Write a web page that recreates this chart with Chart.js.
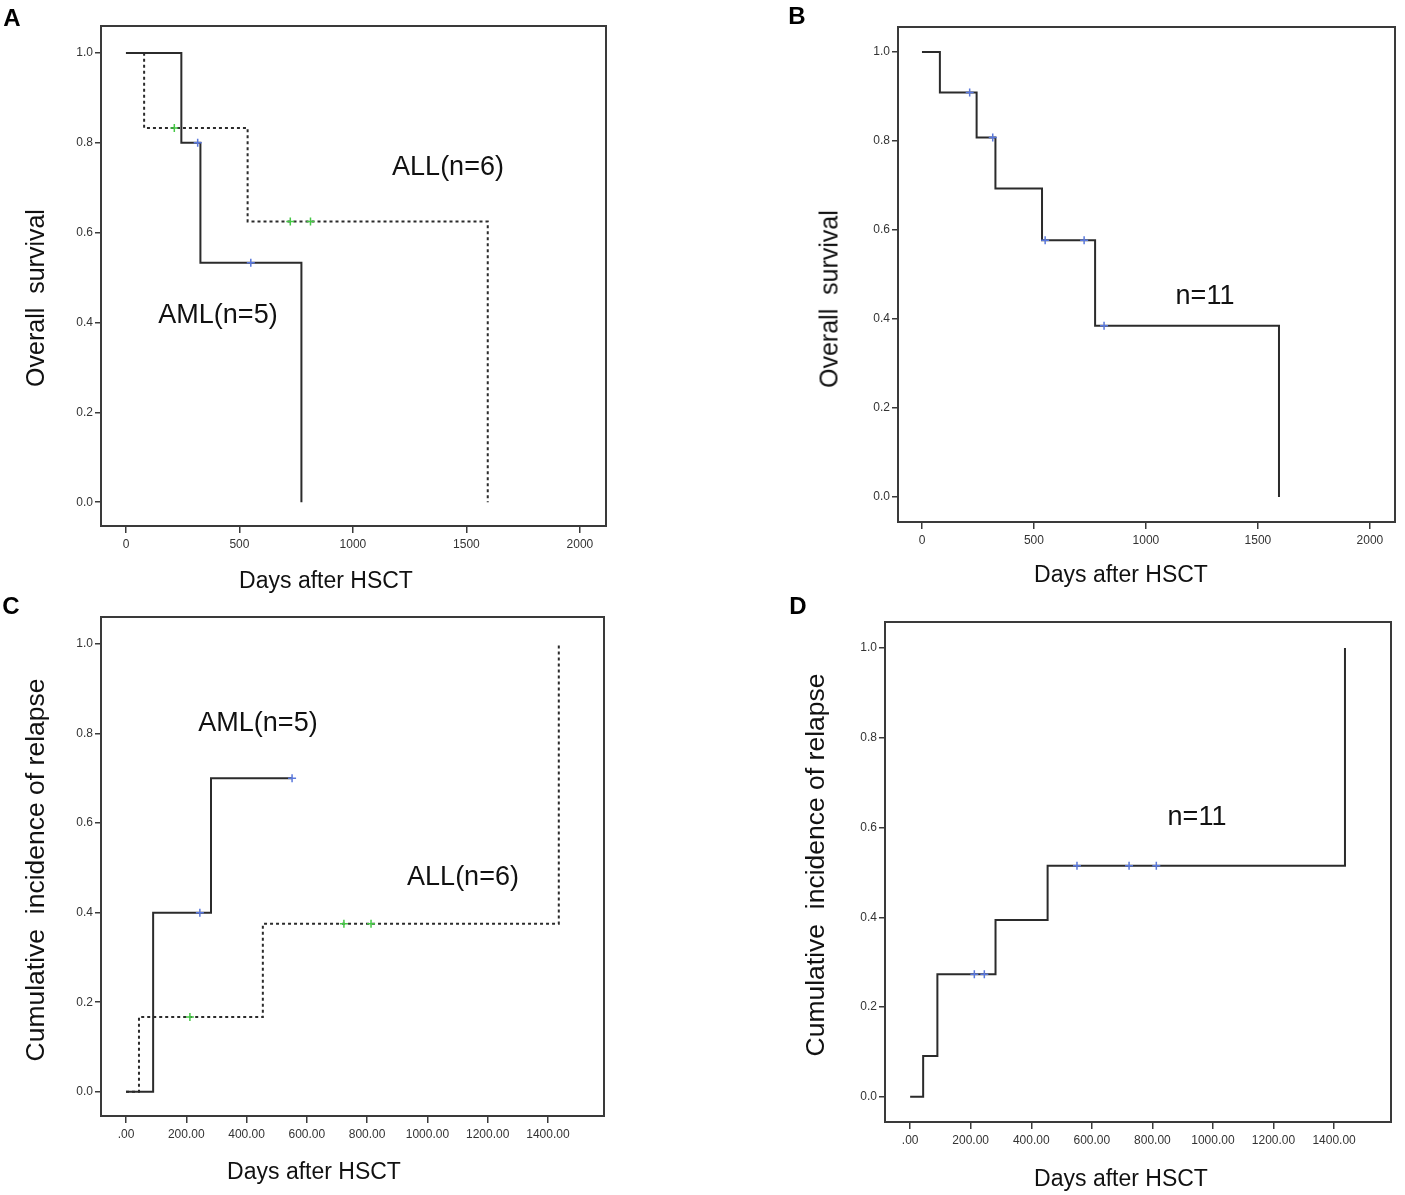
<!DOCTYPE html>
<html>
<head>
<meta charset="utf-8">
<script src="https://cdn.jsdelivr.net/npm/chart.js@4.4.1/dist/chart.umd.min.js"></script>
<style>
  body { margin: 0; background: #fff; width: 1405px; height: 1195px; position: relative; overflow: hidden;
         font-family: "Liberation Sans", Arial, sans-serif; }
  canvas { position: absolute; }
  .txt { position: absolute; transform: translate(-50%, -50%); white-space: pre; color: #111; line-height: 1; }
  .ytitle { transform: translate(-50%, -50%) rotate(-90deg); font-size: 25px; }
  .ytitle.long { font-size: 26.5px; }
  .xtitle { font-size: 23px; }
  .note { font-size: 27px; }
  .letter { font-weight: bold; font-size: 24px; color: #000; }
</style>
</head>
<body>
<canvas id="chartA" width="700" height="600" style="left:0;top:0"></canvas>
<canvas id="chartB" width="615" height="600" style="left:790px;top:0"></canvas>
<canvas id="chartC" width="700" height="600" style="left:0;top:595px"></canvas>
<canvas id="chartD" width="615" height="600" style="left:790px;top:595px"></canvas>

<div class="txt letter" style="left:12px;top:18px">A</div>
<div class="txt letter" style="left:797px;top:16px">B</div>
<div class="txt letter" style="left:11px;top:606px">C</div>
<div class="txt letter" style="left:798px;top:606px">D</div>

<div class="txt ytitle" style="left:35px;top:298px">Overall  survival</div>
<div class="txt xtitle" style="left:326px;top:580px">Days after HSCT</div>
<div class="txt note" style="left:448px;top:166px">ALL(n=6)</div>
<div class="txt note" style="left:218px;top:314px">AML(n=5)</div>

<div class="txt ytitle" style="left:829px;top:299px">Overall  survival</div>
<div class="txt xtitle" style="left:1121px;top:574px">Days after HSCT</div>
<div class="txt note" style="left:1205px;top:295px">n=11</div>

<div class="txt ytitle long" style="left:35px;top:870px">Cumulative  incidence of relapse</div>
<div class="txt xtitle" style="left:314px;top:1171px">Days after HSCT</div>
<div class="txt note" style="left:258px;top:722px">AML(n=5)</div>
<div class="txt note" style="left:463px;top:876px">ALL(n=6)</div>

<div class="txt ytitle long" style="left:815px;top:865px">Cumulative  incidence of relapse</div>
<div class="txt xtitle" style="left:1121px;top:1178px">Days after HSCT</div>
<div class="txt note" style="left:1197px;top:816px">n=11</div>

<script>
// A: overall survival by diagnosis (days, survival after each death)
const amlOsTimes = [0, 244, 328, 773];
const amlOsSurv = [1, 0.8, 0.533, 0];
const amlOsCensorTimes = [316, 550];
const amlOsCensorSurv = [0.8, 0.533];
const allOsTimes = [0, 80, 536, 1594];
const allOsSurv = [1, 0.833, 0.625, 0];
const allOsCensorTimes = [213, 724, 813];
const allOsCensorSurv = [0.833, 0.625, 0.625];

// B: overall survival, all patients
const osTimes = [0, 80, 244, 328, 536, 773, 1594];
const osSurv = [1, 0.909, 0.808, 0.693, 0.577, 0.385, 0];
const osCensorTimes = [213, 316, 550, 724, 813];
const osCensorSurv = [0.909, 0.808, 0.577, 0.577, 0.385];

// C: cumulative incidence of relapse by diagnosis
const amlRelTimes = [0, 90, 282, 551];
const amlRelCum = [0, 0.4, 0.7, 0.7];
const amlRelCensorTimes = [245, 551];
const amlRelCensorCum = [0.4, 0.7];
const allRelTimes = [0, 43, 454, 1436];
const allRelCum = [0, 0.167, 0.375, 1];
const allRelCensorTimes = [212, 723, 813];
const allRelCensorCum = [0.167, 0.375, 0.375];

// D: cumulative incidence of relapse, all patients
const relTimes = [0, 43, 90, 282, 454, 1436];
const relCum = [0, 0.091, 0.273, 0.394, 0.515, 1];
const relCensorTimes = [212, 245, 551, 723, 813];
const relCensorCum = [0.273, 0.273, 0.515, 0.515, 0.515];

// tick values and labels
const yTicks = [0, 0.2, 0.4, 0.6, 0.8, 1.0];
const yLabels = ['0.0', '0.2', '0.4', '0.6', '0.8', '1.0'];
const osXTicks = [0, 500, 1000, 1500, 2000];
const osXLabels = ['0', '500', '1000', '1500', '2000'];
const relXTicks = [0, 200, 400, 600, 800, 1000, 1200, 1400];
const relXLabels = ['.00', '200.00', '400.00', '600.00', '800.00', '1000.00', '1200.00', '1400.00'];

const lineColor = '#2b2b2b';
const blue = '#5a78dc';
const green = '#46c846';
const tickFont = { family: '"Liberation Sans", Arial, sans-serif', size: 12 };

const toPoints = (xs, ys) => xs.map((x, i) => ({ x: x, y: ys[i] }));

const curve = (xs, ys, dotted) => ({
  data: toPoints(xs, ys),
  showLine: true,
  stepped: true,
  borderColor: lineColor,
  borderWidth: 2,
  borderDash: dotted ? [3, 3] : [],
  pointRadius: 0,
  order: 2
});

const censors = (xs, ys, color) => ({
  data: toPoints(xs, ys),
  showLine: false,
  pointStyle: 'cross',
  pointRadius: 4,
  pointBorderWidth: 1.5,
  pointBorderColor: color,
  pointBackgroundColor: color,
  order: 1
});

const boxPlugin = {
  id: 'box',
  afterDraw(chart) {
    const { ctx, chartArea: a } = chart;
    ctx.save();
    ctx.strokeStyle = '#3a3a3a';
    ctx.lineWidth = 2;
    ctx.strokeRect(a.left, a.top, a.right - a.left, a.bottom - a.top);
    ctx.restore();
  }
};

function drawPanel(id, datasets, xTicks, xLabels, range, box) {
  new Chart(document.getElementById(id), {
    type: 'scatter',
    data: { datasets: datasets },
    options: {
      responsive: false,
      animation: false,
      layout: { padding: { top: box.top, right: box.right, left: 0, bottom: 0 } },
      plugins: { legend: { display: false }, tooltip: { enabled: false } },
      scales: {
        x: {
          type: 'linear', min: range.xMin, max: range.xMax,
          afterBuildTicks: s => { s.ticks = xTicks.map(v => ({ value: v })); },
          afterFit: s => { s.height = box.xHeight; },
          ticks: { callback: (v, i) => xLabels[i], font: tickFont, color: '#333', padding: 4, maxRotation: 0, autoSkip: false },
          grid: { drawOnChartArea: false, tickLength: 7, color: '#3a3a3a', lineWidth: 1.5 },
          border: { color: '#3a3a3a', width: 2 }
        },
        y: {
          type: 'linear', min: range.yMin, max: range.yMax,
          afterBuildTicks: s => { s.ticks = yTicks.map(v => ({ value: v })); },
          afterFit: s => { s.width = box.yWidth; },
          ticks: { callback: (v, i) => yLabels[i], font: tickFont, color: '#333', padding: 2, autoSkip: false },
          grid: { drawOnChartArea: false, tickLength: 6, color: '#3a3a3a', lineWidth: 1.5 },
          border: { color: '#3a3a3a', width: 2 }
        }
      }
    },
    plugins: [boxPlugin]
  });
}

drawPanel('chartA', [
  curve(amlOsTimes, amlOsSurv, false),
  curve(allOsTimes, allOsSurv, true),
  censors(amlOsCensorTimes, amlOsCensorSurv, blue),
  censors(allOsCensorTimes, allOsCensorSurv, green)
], osXTicks, osXLabels,
  { xMin: -110, xMax: 2115, yMin: -0.053, yMax: 1.060 },
  { top: 26, right: 94, yWidth: 101, xHeight: 74 });

drawPanel('chartB', [
  curve(osTimes, osSurv, false),
  censors(osCensorTimes, osCensorSurv, blue)
], osXTicks, osXLabels,
  { xMin: -107, xMax: 2112, yMin: -0.056, yMax: 1.056 },
  { top: 27, right: 10, yWidth: 108, xHeight: 78 });

drawPanel('chartC', [
  curve(amlRelTimes, amlRelCum, false),
  curve(allRelTimes, allRelCum, true),
  censors(amlRelCensorTimes, amlRelCensorCum, blue),
  censors(allRelCensorTimes, allRelCensorCum, green)
], relXTicks, relXLabels,
  { xMin: -83, xMax: 1586, yMin: -0.054, yMax: 1.060 },
  { top: 22, right: 96, yWidth: 101, xHeight: 79 });

drawPanel('chartD', [
  curve(relTimes, relCum, false),
  censors(relCensorTimes, relCensorCum, blue)
], relXTicks, relXLabels,
  { xMin: -83, xMax: 1588, yMin: -0.056, yMax: 1.058 },
  { top: 27, right: 14, yWidth: 95, xHeight: 73 });
</script>
</body>
</html>
